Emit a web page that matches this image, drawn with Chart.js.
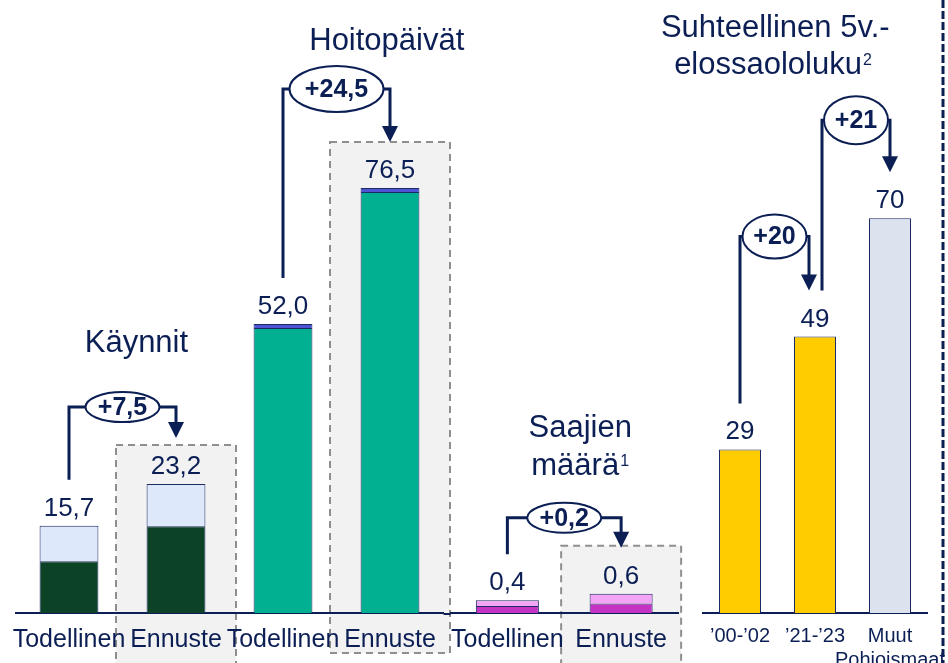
<!DOCTYPE html>
<html>
<head>
<meta charset="utf-8">
<script src="https://cdn.jsdelivr.net/npm/chart.js@4"></script>
<style>
  html, body { margin: 0; padding: 0; background: #fff; overflow: hidden; width: 948px; height: 663px; position: relative; }
  canvas { position: absolute; top: 0; }
</style>
</head>
<body>
<canvas id="chartA" width="520" height="700" style="left:-10px"></canvas>
<canvas id="chartB" width="265" height="700" style="left:425px"></canvas>
<canvas id="chartC" width="370" height="700" style="left:620px"></canvas>
<script>
// ==================== DATA ====================
const LEFT_LABELS = ['Todellinen', 'Ennuste', 'Todellinen', 'Ennuste'];
const KAYNNIT_BASE = [9.3, 15.6, null, null];
const KAYNNIT_TOP = [6.4, 7.6, null, null];
const HOITO_BASE = [null, null, 51.3, 75.8];
const HOITO_TOP = [null, null, 0.7, 0.7];
const LEFT_TOTALS = [15.7, 23.2, 52.0, 76.5];

const SAAJAT_LABELS = ['Todellinen', 'Ennuste'];
const SAAJAT_BASE = [0.22, 0.30];
const SAAJAT_TOP = [0.18, 0.30];
const SAAJAT_TOTALS = [0.4, 0.6];

const ELOSSA_LABELS = ['’00-’02', '’21-’23', ['Muut', 'Pohjoismaat']];
const ELOSSA_VALUES = [29, 49, 70];

// ==================== HELPERS ====================
const NAVY = '#0c1f55';
const BAR_BORDER = '#1b2a66';
const FONT = '"Liberation Sans", Arial, sans-serif';

function fmt(v, dec) {
  return v.toFixed(dec).replace('.', ',');
}

function barX(chart, i) {
  return chart.scales.x.getPixelForValue(i);
}

function barTop(chart, i) {
  let top = Infinity;
  chart.data.datasets.forEach((ds, d) => {
    if (ds.data[i] == null) return;
    top = Math.min(top, chart.getDatasetMeta(d).data[i].y);
  });
  return top;
}

function drawTitle(ctx, t, x) {
  ctx.font = '31px ' + FONT;
  const w1 = ctx.measureText(t.text).width;
  let w2 = 0;
  if (t.sup) {
    ctx.font = '16px ' + FONT;
    w2 = ctx.measureText(t.sup).width + 1;
  }
  const start = x - (w1 + w2) / 2;
  ctx.textAlign = 'left';
  ctx.textBaseline = 'alphabetic';
  ctx.fillStyle = NAVY;
  ctx.font = '31px ' + FONT;
  ctx.fillText(t.text, start, t.y);
  if (t.sup) {
    ctx.font = '16px ' + FONT;
    ctx.fillText(t.sup, start + w1 + 1, t.y - 9);
  }
}

function drawBracket(ctx, x1, y1, x2, y2, level, b, text) {
  const cx = (x1 + x2) / 2;
  ctx.strokeStyle = NAVY;
  ctx.fillStyle = NAVY;
  ctx.lineWidth = 3;
  ctx.setLineDash([]);
  ctx.beginPath();
  ctx.moveTo(x1, y1);
  ctx.lineTo(x1, level);
  ctx.lineTo(cx - b.rx, level);
  ctx.moveTo(cx + b.rx, level);
  ctx.lineTo(x2, level);
  ctx.lineTo(x2, y2 - 14);
  ctx.stroke();

  ctx.beginPath();
  ctx.moveTo(x2 - 8, y2 - 16);
  ctx.lineTo(x2 + 8, y2 - 16);
  ctx.lineTo(x2, y2);
  ctx.closePath();
  ctx.fill();

  ctx.beginPath();
  ctx.ellipse(cx, level, b.rx, b.ry, 0, 0, Math.PI * 2);
  ctx.fillStyle = '#fff';
  ctx.fill();
  ctx.lineWidth = 2;
  ctx.stroke();

  ctx.fillStyle = NAVY;
  ctx.font = 'bold 25px ' + FONT;
  ctx.textAlign = 'center';
  ctx.textBaseline = 'middle';
  ctx.fillText(text, cx, level + 1);
}

function overlay(cfg) {
  return {
    id: 'overlay',
    beforeDraw(chart) {
      const ctx = chart.ctx;
      (cfg.boxes || []).forEach(b => {
        const x = barX(chart, b.index);
        const top = barTop(chart, b.index) - b.pad;
        ctx.save();
        ctx.fillStyle = '#f2f2f2';
        ctx.fillRect(x - 60, top, 120, b.bottom - top);
        ctx.setLineDash([7, 5]);
        ctx.strokeStyle = '#8f8f8f';
        ctx.lineWidth = 2;
        ctx.strokeRect(x - 60, top, 120, b.bottom - top);
        ctx.restore();
      });
    },
    afterDraw(chart) {
      const ctx = chart.ctx;
      const area = chart.chartArea;
      ctx.save();
      // baseline continues left to meet the neighbouring panel
      if (cfg.extendLeft) {
        ctx.strokeStyle = NAVY;
        ctx.lineWidth = 2;
        ctx.beginPath();
        ctx.moveTo(area.left - cfg.extendLeft, area.bottom + 1);
        ctx.lineTo(area.left, area.bottom + 1);
        ctx.stroke();
      }
      // value labels
      ctx.fillStyle = NAVY;
      ctx.font = '26px ' + FONT;
      ctx.textAlign = 'center';
      ctx.textBaseline = 'alphabetic';
      cfg.totals.forEach((v, i) => {
        ctx.fillText(fmt(v, cfg.dec), barX(chart, i), barTop(chart, i) - 10);
      });
      // change brackets
      (cfg.brackets || []).forEach(b => {
        const t1 = barTop(chart, b.from), t2 = barTop(chart, b.to);
        const x1 = barX(chart, b.from) + (b.dx1 || 0);
        const x2 = barX(chart, b.to) + (b.dx2 || 0);
        const level = Math.min(t1, t2) - b.rise;
        const diff = cfg.totals[b.to] - cfg.totals[b.from];
        drawBracket(ctx, x1, t1 - 46, x2, t2 - 46, level, b, '+' + fmt(diff, cfg.dec));
      });
      // titles
      (cfg.titles || []).forEach(t => drawTitle(ctx, t, chart.scales.x.getPixelForValue(t.idx)));
      if (cfg.divider != null) {
        ctx.strokeStyle = NAVY;
        ctx.lineWidth = 3;
        ctx.setLineDash([8, 3]);
        ctx.beginPath();
        ctx.moveTo(cfg.divider, 0);
        ctx.lineTo(cfg.divider, 700);
        ctx.stroke();
      }
      ctx.restore();
    }
  };
}

function baseOptions(max, tickSize, tickPad, padding) {
  return {
    responsive: false,
    animation: false,
    devicePixelRatio: 1,
    layout: { padding },
    plugins: { legend: { display: false }, tooltip: { enabled: false } },
    scales: {
      x: {
        stacked: true,
        grid: { display: true, drawOnChartArea: false, drawTicks: false },
        border: { color: NAVY, width: 2 },
        ticks: {
          color: NAVY,
          font: { family: FONT, size: tickSize },
          padding: tickPad,
          autoSkip: false,
          maxRotation: 0,
          minRotation: 0
        }
      },
      y: { stacked: true, display: false, min: 0, max }
    }
  };
}

function bars(data, color, bp) {
  return {
    data,
    backgroundColor: color,
    borderColor: BAR_BORDER,
    borderWidth: 1,
    barPercentage: bp,
    categoryPercentage: 1
  };
}

// ==================== CHARTS ====================
new Chart(document.getElementById('chartA'), {
  type: 'bar',
  data: {
    labels: LEFT_LABELS,
    datasets: [
      bars(KAYNNIT_BASE, '#0c4226', 0.55),
      bars(KAYNNIT_TOP, '#dde8fa', 0.55),
      bars(HOITO_BASE, '#00b090', 0.55),
      bars(HOITO_TOP, '#5052d4', 0.55)
    ]
  },
  options: baseOptions(99, 25, 12, { left: 25.5, right: 66.5, top: 63, bottom: 33 }),
  plugins: [overlay({
    totals: LEFT_TOTALS,
    dec: 1,
    boxes: [
      { index: 1, pad: 39, bottom: 720 },
      { index: 3, pad: 46, bottom: 653 }
    ],
    brackets: [
      { from: 0, to: 1, rise: 77, rx: 37, ry: 15 },
      { from: 2, to: 3, rise: 99, rx: 47, ry: 23 }
    ],
    titles: [
      { text: 'Käynnit', idx: 0.63, y: 352 },
      { text: 'Hoitopäivät', idx: 2.97, y: 50 }
    ]
  })]
});

new Chart(document.getElementById('chartB'), {
  type: 'bar',
  data: {
    labels: SAAJAT_LABELS,
    datasets: [
      bars(SAAJAT_BASE, '#c433c4', 0.554),
      bars(SAAJAT_TOP, '#f4a4f4', 0.554)
    ]
  },
  options: baseOptions(17.2, 25, 12, { left: 25.5, right: 12, top: 63, bottom: 33 }),
  plugins: [overlay({
    totals: SAAJAT_TOTALS,
    dec: 1,
    extendLeft: 7,
    boxes: [{ index: 1, pad: 48, bottom: 720 }],
    brackets: [{ from: 0, to: 1, rise: 76, rx: 37, ry: 15 }],
    titles: [
      { text: 'Saajien', idx: 0.64, y: 437 },
      { text: 'määrä', sup: '1', idx: 0.64, y: 475 }
    ]
  })]
});

new Chart(document.getElementById('chartC'), {
  type: 'bar',
  data: {
    labels: ELOSSA_LABELS,
    datasets: [bars(ELOSSA_VALUES, ['#ffcc00', '#ffcc00', '#dce3ee'], 0.56)]
  },
  options: baseOptions(97.5, 20, 11, { left: 82.5, right: 62.5, top: 63, bottom: 17 }),
  plugins: [overlay({
    totals: ELOSSA_VALUES,
    dec: 0,
    brackets: [
      { from: 0, to: 1, rise: 100, rx: 32, ry: 22, dx2: -6 },
      { from: 1, to: 2, rise: 98, rx: 32, ry: 24, dx1: 7 }
    ],
    titles: [
      { text: 'Suhteellinen 5v.-', idx: 0.47, y: 37 },
      { text: 'elossaololuku', sup: '2', idx: 0.44, y: 74 }
    ],
    divider: 323
  })]
});
</script>
</body>
</html>
